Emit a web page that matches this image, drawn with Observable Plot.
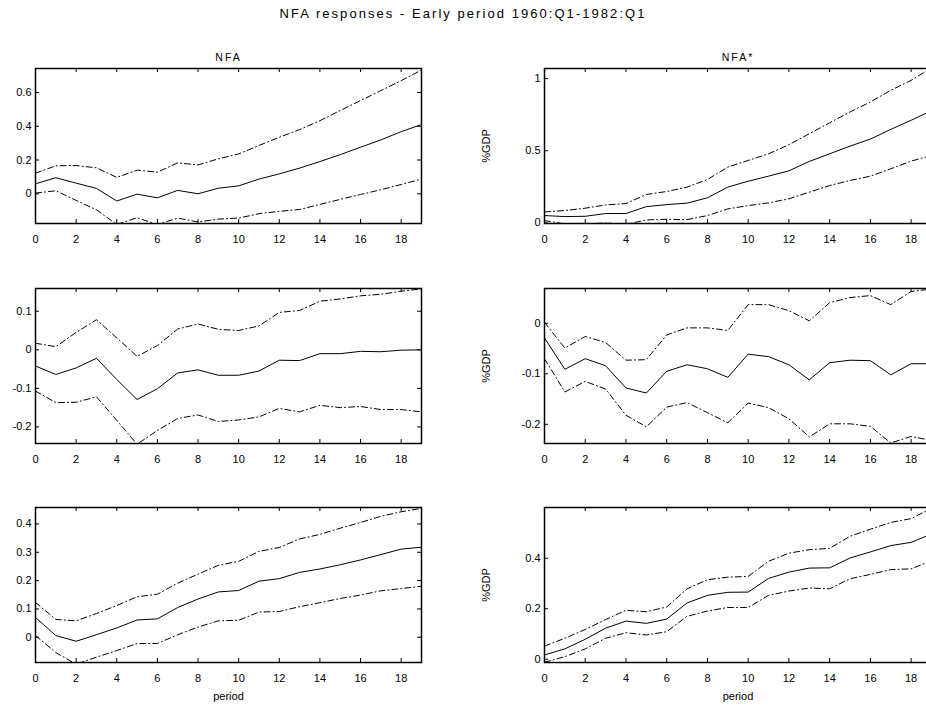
<!DOCTYPE html>
<html><head><meta charset="utf-8">
<script src="https://cdn.jsdelivr.net/npm/d3@7"></script>
<script src="https://cdn.jsdelivr.net/npm/@observablehq/plot@0.6"></script>
<style>
html,body{margin:0;padding:0;background:#fff}
body{width:926px;height:709px;overflow:hidden;position:relative;font-family:"Liberation Sans",Arial,sans-serif}
#title{position:absolute;top:6px;left:0;width:926px;text-align:center;font-size:13px;letter-spacing:2.05px;color:#000;white-space:nowrap}
.panel{position:absolute}
.panel svg{overflow:visible;max-width:none !important}
</style></head><body>
<div id="title">NFA responses - Early period 1960:Q1-1982:Q1</div>
<div id="root"></div>
<script>
// ---- data ----
const periods = [0,1,2,3,4,5,6,7,8,9,10,11,12,13,14,15,16,17,18,19];
const xTicks = [0,2,4,6,8,10,12,14,16,18];
const panelTitles = ["NFA", "NFA*"];
const yLabel = "%GDP";
const xLabel = "period";

const nfaMid = [0.059,0.095,0.063,0.032,-0.043,-0.002,-0.024,0.020,0.000,0.033,0.047,0.087,0.118,0.152,0.191,0.232,0.276,0.319,0.368,0.410];
const nfaUp  = [0.122,0.166,0.167,0.154,0.097,0.140,0.128,0.183,0.171,0.207,0.236,0.286,0.335,0.380,0.433,0.493,0.552,0.611,0.670,0.733];
const nfaLo  = [0.004,0.018,-0.039,-0.095,-0.182,-0.142,-0.182,-0.144,-0.167,-0.150,-0.144,-0.118,-0.104,-0.093,-0.063,-0.033,-0.004,0.024,0.055,0.087];
const nfaTicks = [0,0.2,0.4,0.6];

const nfaStarMid = [0.051,0.044,0.046,0.065,0.065,0.113,0.127,0.137,0.174,0.248,0.289,0.324,0.361,0.426,0.479,0.532,0.581,0.648,0.711,0.778];
const nfaStarUp  = [0.076,0.086,0.102,0.125,0.134,0.197,0.218,0.248,0.301,0.387,0.433,0.479,0.542,0.618,0.694,0.769,0.838,0.919,0.988,1.075];
const nfaStarLo  = [0.016,-0.007,-0.007,0.000,-0.010,0.021,0.025,0.023,0.051,0.097,0.120,0.139,0.167,0.213,0.259,0.294,0.324,0.375,0.428,0.468];
const nfaStarTicks = [0,0.5,1];

const row2LeftMid = [-0.042,-0.064,-0.047,-0.022,-0.077,-0.129,-0.101,-0.060,-0.052,-0.066,-0.066,-0.055,-0.027,-0.028,-0.010,-0.010,-0.004,-0.005,-0.001,0.000];
const row2LeftUp  = [0.017,0.008,0.045,0.078,0.031,-0.017,0.011,0.054,0.067,0.053,0.050,0.062,0.097,0.102,0.126,0.132,0.140,0.144,0.152,0.158];
const row2LeftLo  = [-0.107,-0.137,-0.136,-0.122,-0.183,-0.245,-0.209,-0.178,-0.169,-0.186,-0.182,-0.174,-0.152,-0.161,-0.144,-0.150,-0.147,-0.155,-0.155,-0.161];
const row2LeftTicks = [-0.2,-0.1,0,0.1];

const row2RightMid = [-0.029,-0.091,-0.070,-0.084,-0.128,-0.138,-0.095,-0.082,-0.090,-0.107,-0.061,-0.066,-0.082,-0.112,-0.078,-0.073,-0.074,-0.102,-0.080,-0.080];
const row2RightUp  = [0.002,-0.049,-0.026,-0.038,-0.073,-0.072,-0.023,-0.009,-0.009,-0.014,0.037,0.037,0.025,0.005,0.041,0.051,0.055,0.037,0.063,0.068];
const row2RightLo  = [-0.070,-0.136,-0.115,-0.130,-0.182,-0.205,-0.166,-0.157,-0.177,-0.197,-0.158,-0.167,-0.189,-0.225,-0.199,-0.199,-0.204,-0.237,-0.224,-0.232];
const row2RightTicks = [-0.2,-0.1,0];

const row3LeftMid = [0.070,0.006,-0.014,0.009,0.033,0.061,0.065,0.105,0.135,0.160,0.165,0.198,0.207,0.229,0.241,0.256,0.273,0.292,0.311,0.318];
const row3LeftUp  = [0.123,0.063,0.058,0.084,0.112,0.143,0.152,0.191,0.223,0.254,0.268,0.303,0.317,0.347,0.363,0.385,0.405,0.427,0.443,0.455];
const row3LeftLo  = [0.006,-0.054,-0.095,-0.070,-0.047,-0.022,-0.022,0.009,0.036,0.058,0.060,0.089,0.091,0.108,0.122,0.137,0.149,0.164,0.172,0.180];
const row3LeftTicks = [0,0.1,0.2,0.3,0.4];

const row3RightMid = [0.017,0.041,0.079,0.123,0.151,0.142,0.159,0.223,0.253,0.265,0.266,0.320,0.345,0.361,0.362,0.401,0.425,0.450,0.463,0.496];
const row3RightUp  = [0.052,0.083,0.118,0.157,0.194,0.188,0.207,0.279,0.315,0.325,0.328,0.388,0.420,0.434,0.439,0.487,0.515,0.542,0.557,0.598];
const row3RightLo  = [-0.012,0.010,0.041,0.083,0.105,0.096,0.109,0.170,0.191,0.205,0.205,0.253,0.270,0.282,0.279,0.319,0.336,0.355,0.358,0.390];
const row3RightTicks = [0,0.2,0.4];

// ---- panels ----
const panels = [
  {row:0,col:0,mid:nfaMid,up:nfaUp,lo:nfaLo,ticks:nfaTicks,domain:[-0.176,0.742],title:panelTitles[0]},
  {row:0,col:1,mid:nfaStarMid,up:nfaStarUp,lo:nfaStarLo,ticks:nfaStarTicks,domain:[-0.004,1.07],title:panelTitles[1]},
  {row:1,col:0,mid:row2LeftMid,up:row2LeftUp,lo:row2LeftLo,ticks:row2LeftTicks,domain:[-0.243,0.159]},
  {row:1,col:1,mid:row2RightMid,up:row2RightUp,lo:row2RightLo,ticks:row2RightTicks,domain:[-0.238,0.069]},
  {row:2,col:0,mid:row3LeftMid,up:row3LeftUp,lo:row3LeftLo,ticks:row3LeftTicks,domain:[-0.089,0.458]},
  {row:2,col:1,mid:row3RightMid,up:row3RightUp,lo:row3RightLo,ticks:row3RightTicks,domain:[-0.013,0.601]}
];

const rowTops = [30, 250, 469];
const font = '"Liberation Sans", Arial, sans-serif';
const root = document.getElementById("root");

for (const p of panels) {
  const ml = p.col === 0 ? 35 : 81;
  const pw = p.col === 0 ? 386 : 387;
  const mr = p.col === 0 ? 42 : 10;
  const mt = 38, ph = 155;
  const mb = p.row === 2 ? 47 : 27;
  const width = ml + pw + mr, height = mt + ph + mb;
  const xOf = (d, i) => periods[i];
  const dash = "6,3,1,3";
  const marks = [
    Plot.lineY(p.up, {x: xOf, y: d => d, stroke: "#000", strokeWidth: 1, strokeDasharray: dash, clip: true}),
    Plot.lineY(p.lo, {x: xOf, y: d => d, stroke: "#000", strokeWidth: 1, strokeDasharray: dash, clip: true}),
    Plot.lineY(p.mid, {x: xOf, y: d => d, stroke: "#000", strokeWidth: 1, clip: true}),
    // inward ticks on all four sides
    Plot.ruleX(xTicks, {x: d => d, stroke: "#000", insetTop: ph - 4}),
    Plot.ruleX(xTicks, {x: d => d, stroke: "#000", insetBottom: ph - 4}),
    Plot.ruleY(p.ticks, {y: d => d, stroke: "#000", insetRight: pw - 4}),
    Plot.ruleY(p.ticks, {y: d => d, stroke: "#000", insetLeft: pw - 4}),
    Plot.frame({stroke: "#000", strokeWidth: 1.5}),
    Plot.axisX(xTicks, {tickSize: 0, tickPadding: 12, tickFormat: d => String(d), fontSize: 11,
      label: p.row === 2 ? xLabel : null, labelAnchor: "center", labelOffset: 37, labelArrow: false}),
    Plot.axisY(p.ticks, {tickSize: 0, tickPadding: 4, tickFormat: d => String(d), fontSize: 11,
      label: p.col === 1 ? yLabel : null, labelAnchor: "center", labelOffset: 62, labelArrow: false})
  ];
  if (p.title) marks.push(Plot.text([p.title], {frameAnchor: "top", dy: -15, text: d => d, fontSize: 10.5, fill: "#000"}));
  const svg = Plot.plot({
    width, height, marginLeft: ml, marginRight: mr, marginTop: mt, marginBottom: mb,
    style: {fontFamily: font, fontSize: "11px", color: "#000", background: "transparent", overflow: "visible", maxWidth: "none"},
    x: {domain: [0, 19]},
    y: {domain: p.domain},
    marks
  });
  svg.style.maxWidth = "none";
  svg.setAttribute("width", width);
  svg.setAttribute("height", height);
  if (p.title) {
    svg.querySelectorAll("text").forEach(t => {
      if (t.textContent === p.title) { t.setAttribute("letter-spacing", "2px"); t.style.letterSpacing = "2px"; }
    });
  }
  const div = document.createElement("div");
  div.className = "panel";
  div.style.left = (p.col === 0 ? 0 : 463) + "px";
  div.style.top = rowTops[p.row] + "px";
  div.style.width = width + "px";
  div.style.height = height + "px";
  div.appendChild(svg);
  root.appendChild(div);
}
</script>
</body></html>
